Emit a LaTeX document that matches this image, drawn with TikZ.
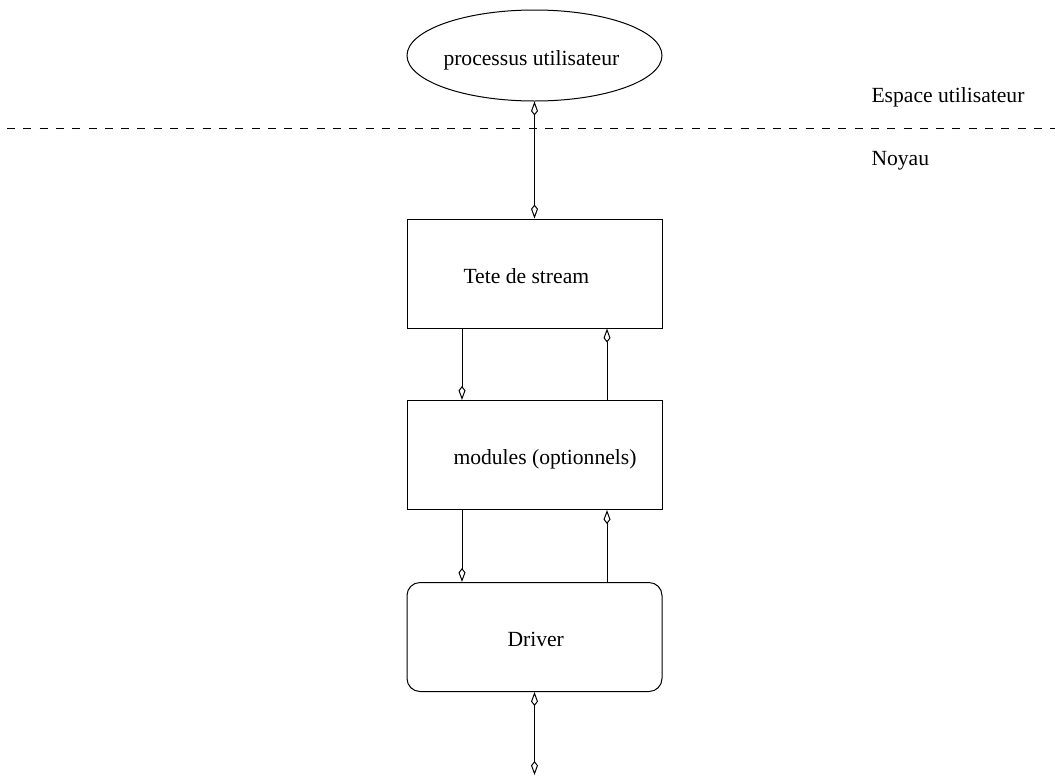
\documentclass[tikz,border=0pt]{standalone}
\usepackage{fontspec}
\setmainfont{Liberation Serif}
\usetikzlibrary{arrows.meta,shapes.geometric}

\begin{document}
\begin{tikzpicture}[x=1pt,y=-1pt,
  line width=1pt,
  font=\fontsize{21.6}{26}\selectfont,
  kite/.tip={Kite[open,length=14pt,width=7pt,inset=4.5pt]},
  block/.style={draw,minimum width=255pt,minimum height=109pt,inner sep=0pt},
  rblock/.style={block,rounded corners=13pt},
  proc/.style={draw,ellipse,minimum width=255pt,minimum height=91pt,inner sep=0pt},
  lbl/.style={anchor=base west,inner sep=0pt},
  link/.style={-kite},
  dlink/.style={kite-kite},
  sep/.style={dash pattern=on 8pt off 8.3pt,dash phase=-7pt}
]
\useasboundingbox (0,0) rectangle (1055,777);

% user space / kernel boundary
\coordinate (sepL) at (0,128);
\coordinate (sepR) at (1055,128);
\draw[sep] (sepL) -- (sepR);
\node[lbl] (espace) at (871,102) {Espace utilisateur};
\node[lbl] (noyau) at (871,165) {Noyau};

% process and stream stack
\node[proc] (user) at (534.5,55.5) {};
\node[lbl] (userT) at (443,65) {processus utilisateur};

\node[block] (head) at (534.5,273.5) {};
\node[lbl] (headT) at (463,283) {Tete de stream};

\node[block] (mods) at (534.5,455) {};
\node[lbl] (modsT) at (453,464) {modules (optionnels)};

\node[rblock] (drv) at (534.5,637) {};
\node[lbl] (drvT) at (507,646) {Driver};

% columns of the down and up queues
\coordinate (dn) at (462,0);
\coordinate (up) at (607,0);
\coordinate (out) at (534.5,775);

\draw[dlink] (user.south) -- (head.north);
\draw[link] (head.south -| dn) -- (mods.north -| dn);
\draw[link] (mods.north -| up) -- (head.south -| up);
\draw[link] (mods.south -| dn) -- (drv.north -| dn);
\draw[link] (drv.north -| up) -- (mods.south -| up);
\draw[dlink] (drv.south) -- (out);
\end{tikzpicture}
\end{document}
